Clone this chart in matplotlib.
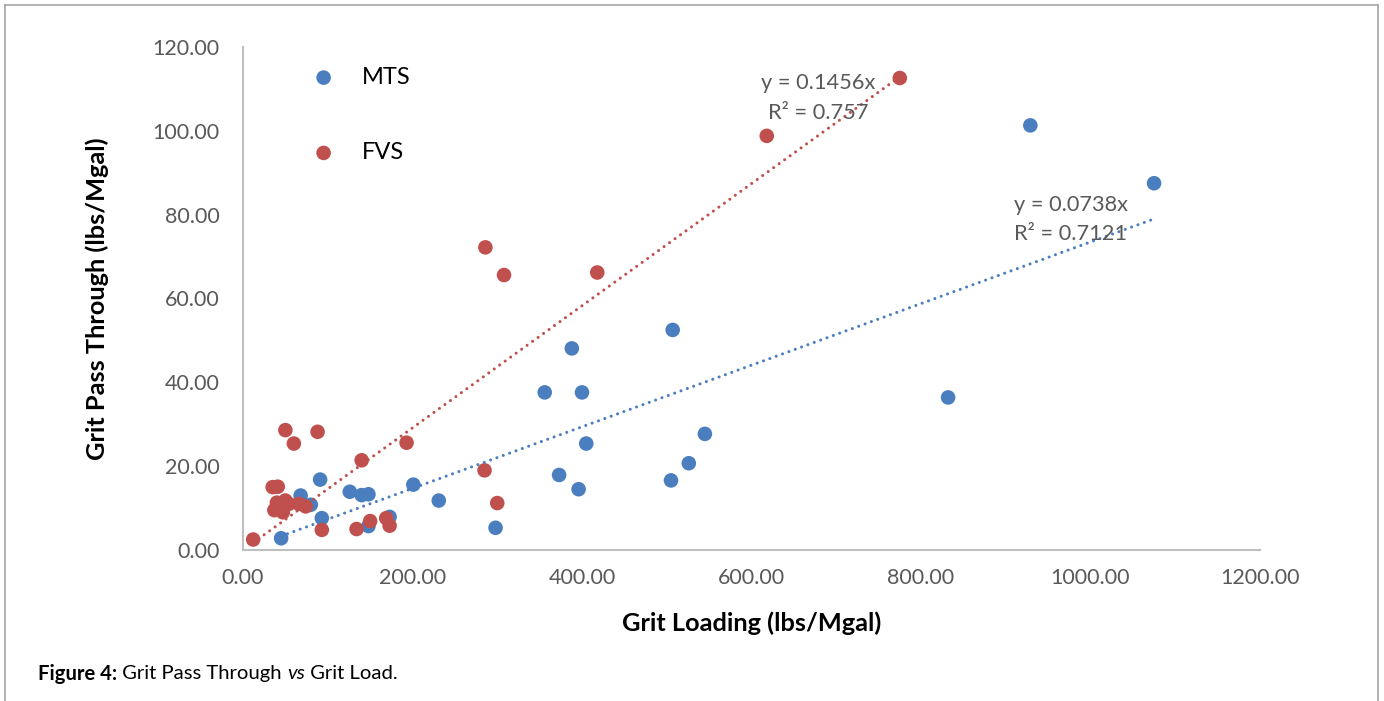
import numpy as np
import matplotlib
matplotlib.use("Agg")
import matplotlib.pyplot as plt
from matplotlib.lines import Line2D

plt.rcParams['font.family'] = ['Lato', 'DejaVu Sans']

# ---- data ----
mts_x = [45, 68, 80, 91, 93, 126, 140, 148, 148, 173, 201, 231, 298, 356, 373, 388,
         396, 400, 405, 505, 507, 526, 545, 832, 929, 1075]
mts_y = [2.8, 13.0, 10.8, 16.8, 7.6, 13.9, 13.1, 13.3, 5.7, 7.9, 15.6, 11.8, 5.3, 37.6,
         17.9, 48.1, 14.5, 37.6, 25.4, 16.6, 52.5, 20.7, 27.7, 36.4, 101.3, 87.5]
fvs_x = [12, 35, 41, 37, 40, 44, 47, 50, 54, 50, 60, 66, 74, 88, 93, 134, 140, 150,
         169, 173, 193, 285, 286, 300, 308, 418, 618, 775]
fvs_y = [2.5, 15.0, 15.1, 9.5, 11.3, 9.8, 9.0, 11.8, 11.0, 28.6, 25.4, 11.0, 10.4, 28.2,
         4.8, 5.0, 21.4, 6.9, 7.6, 5.8, 25.6, 19.0, 72.2, 11.2, 65.6, 66.2, 98.8, 112.6]
series_names = ["MTS", "FVS"]
mts_eq = ["y = 0.0738x", "R² = 0.7121"]
fvs_eq = ["y = 0.1456x", "R² = 0.757"]
x_ticks = [0, 200, 400, 600, 800, 1000, 1200]
y_ticks = [0, 20, 40, 60, 80, 100, 120]

BLUE = "#4A7EBF"
RED = "#C0504D"
GRAY_TXT = "#595959"
AXIS_GRAY = "#BFBFBF"

W, H = 1384, 701
fig = plt.figure(figsize=(W / 100, H / 100), dpi=100)
ax = fig.add_axes([243 / W, 1 - 550 / H, (1260 - 243) / W, (550 - 47) / H])

ax.set_xlim(0, 1200)
ax.set_ylim(0, 120)

# trendlines through origin (least squares)
def fit_line(xs, ys):
    xs = np.asarray(xs, float); ys = np.asarray(ys, float)
    k = (xs * ys).sum() / (xs * xs).sum()
    xx = np.array([xs.min(), xs.max()])
    return xx, k * xx

dot_style = dict(lw=2.2, linestyle=(0, (0.01, 2.2)), dash_capstyle='round', zorder=3)
xx, yy = fit_line(mts_x, mts_y)
ax.plot(xx, yy, color=BLUE, **dot_style)
xx, yy = fit_line(fvs_x, fvs_y)
ax.plot(xx, yy, color=RED, **dot_style)

ax.scatter(mts_x, mts_y, s=110, color=BLUE, edgecolors='none', zorder=2, label=series_names[0])
ax.scatter(fvs_x, fvs_y, s=110, color=RED, edgecolors='none', zorder=2, label=series_names[1])

# equations
def px2data(px, py):
    return (px - 243) / (1260 - 243) * 1200, (550 - py) / (550 - 47) * 120

for (px, py), t in zip([(818, 83), (818, 113)], fvs_eq):
    ax.text(*px2data(px, py), t, ha='center', va='center', fontsize=15.7, color=GRAY_TXT, zorder=4)
for (px, py), t in zip([(1071, 205), (1071, 234)], mts_eq):
    ax.text(*px2data(px, py), t, ha='center', va='center', fontsize=15.7, color=GRAY_TXT, zorder=4)

# axes styling
for s in ['top', 'right']:
    ax.spines[s].set_visible(False)
for s in ['left', 'bottom']:
    ax.spines[s].set_color(AXIS_GRAY)
    ax.spines[s].set_linewidth(1.5)
ax.set_xticks(x_ticks)
ax.set_yticks(y_ticks)
ax.set_xticklabels([f"{v:.2f}" for v in x_ticks])
ax.set_yticklabels([f"{v:.2f}" for v in y_ticks])
ax.tick_params(axis='both', length=0, labelsize=15.5, labelcolor=GRAY_TXT)
ax.tick_params(axis='y', pad=17)
ax.tick_params(axis='x', pad=13)

ax.set_xlabel("Grit Loading (lbs/Mgal)", fontsize=18.3, fontweight='bold')
ax.set_ylabel("Grit Pass Through (lbs/Mgal)", fontsize=18.3, fontweight='bold')
ax.xaxis.label.set_va('center')
ax.yaxis.label.set_va('center')
ax.xaxis.set_label_coords(0.5, (550 - 623) / (550 - 47))
ax.yaxis.set_label_coords((97 - 243) / (1260 - 243), 0.5)

leg = ax.legend(loc='upper left', bbox_to_anchor=((300 - 243) / 1017, (550 - 55) / 503),
                frameon=False, fontsize=17, labelspacing=2.3, handletextpad=1.1,
                markerscale=1.0, borderpad=0, handlelength=1.0)
for t in leg.get_texts():
    t.set_color("#000000")

# figure border
fig.add_artist(Line2D([5 / W, 5 / W], [0, 1 - 5 / H], color="#A6A6A6", lw=1.2))
fig.add_artist(Line2D([5 / W, 1378 / W], [1 - 5 / H, 1 - 5 / H], color="#A6A6A6", lw=1.2))
fig.add_artist(Line2D([1378 / W, 1378 / W], [0, 1 - 5 / H], color="#A6A6A6", lw=1.2))

# caption
fig.canvas.draw()
r = fig.canvas.get_renderer()
x0 = 38 / W
yc = 1 - 672 / H
parts = [("Figure 4:", 'bold', 'normal'), (" Grit Pass Through ", 'normal', 'normal'),
         ("vs", 'normal', 'italic'), (" Grit Load.", 'normal', 'normal')]
for txt, wt, st in parts:
    t = fig.text(x0, yc, txt, fontsize=14.6, fontweight=wt, fontstyle=st, ha='left',
                 va='center_baseline', color='black')
    bb = t.get_window_extent(renderer=r)
    x0 += bb.width / W

fig.savefig("out.png", dpi=100)
